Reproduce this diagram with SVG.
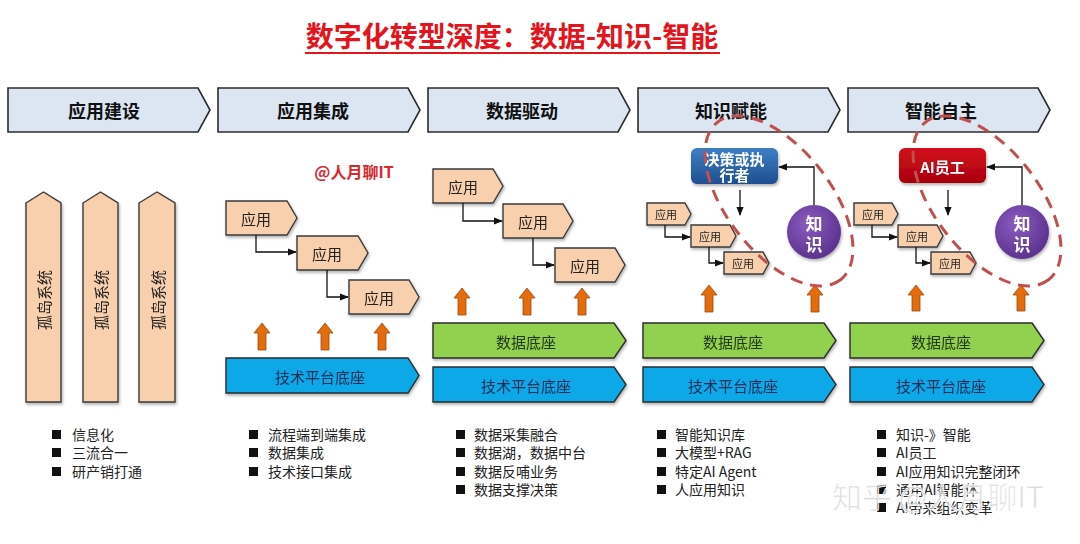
<svg xmlns="http://www.w3.org/2000/svg" width="1080" height="544" viewBox="0 0 1080 544">
<style>
text{font-family:"Noto Sans CJK SC","Noto Sans",sans-serif}
.hdr{fill:#dce6f2;stroke:#2b2b2b;stroke-width:1.6}
.hdrt{font-size:18px;font-weight:bold;fill:#111;text-anchor:middle;dominant-baseline:central}
.app{fill:#f9d0ad;stroke:#3a3a3a;stroke-width:1.4}
.appt{font-size:15px;fill:#222;text-anchor:middle;dominant-baseline:central}
.apps{font-size:11px;fill:#222;text-anchor:middle;dominant-baseline:central}
.grn{fill:#92d050;stroke:#2b2b2b;stroke-width:1.4}
.blu{fill:#0aa8e8;stroke:#2b2b2b;stroke-width:1.4}
.bart{font-size:15px;fill:#1c2e52;text-anchor:middle;dominant-baseline:central}
.bargt{font-size:15px;fill:#233a1a;text-anchor:middle;dominant-baseline:central}
.up{fill:#e46c0a;stroke:#9a4a10;stroke-width:0.8}
.conn{fill:none;stroke:#111;stroke-width:1.3}
.ell{fill:none;stroke:#c0504d;stroke-width:3;stroke-dasharray:12 8}
.bul{font-size:14px;fill:#222}
.sq{fill:#111}
.wt{font-size:15px;font-weight:bold;fill:#fff;text-anchor:middle;dominant-baseline:central}
.kt{font-size:17px;font-weight:bold;fill:#fff;text-anchor:middle;dominant-baseline:central}
</style>
<defs>
<marker id="ah" viewBox="0 0 10 10" refX="9" refY="5" markerWidth="7" markerHeight="7" orient="auto-start-reverse">
<path d="M0,1 L10,5 L0,9 Z" fill="#111"/>
</marker>
<linearGradient id="gb" x1="0" y1="0" x2="0" y2="1"><stop offset="0" stop-color="#3f7fc8"/><stop offset="1" stop-color="#1f4e8f"/></linearGradient>
<linearGradient id="gr" x1="0" y1="0" x2="0" y2="1"><stop offset="0" stop-color="#d4101c"/><stop offset="1" stop-color="#a8000e"/></linearGradient>
<radialGradient id="gp" cx="0.4" cy="0.35" r="0.7"><stop offset="0" stop-color="#8a5cc0"/><stop offset="1" stop-color="#5a2f8c"/></radialGradient>
<filter id="sh" x="-10%" y="-10%" width="130%" height="140%"><feDropShadow dx="1" dy="2" stdDeviation="1.5" flood-color="#000" flood-opacity="0.3"/></filter>
</defs>

<rect width="1080" height="544" fill="#fff"/>

<g id="title">
<text x="512" y="47" font-size="28" font-weight="bold" fill="#e3141b" text-anchor="middle">数字化转型深度：数据-知识-智能</text>
<line x1="305" y1="53" x2="720" y2="53" stroke="#e3141b" stroke-width="2"/>
</g>
<g id="watermark1"><text x="354" y="178" font-size="16" font-weight="bold" fill="#d9262c" text-anchor="middle">@人月聊IT</text></g>

<g id="headers">
<g id="h1"><path class="hdr" d="M8,88 H198 L210,110 L198,132 H8 Z"/><text class="hdrt" x="104" y="110">应用建设</text></g>
<g id="h2"><path class="hdr" d="M218,88 H408 L420,110 L408,132 H218 Z"/><text class="hdrt" x="313" y="110">应用集成</text></g>
<g id="h3"><path class="hdr" d="M428,88 H618 L630,110 L618,132 H428 Z"/><text class="hdrt" x="522" y="110">数据驱动</text></g>
<g id="h4"><path class="hdr" d="M638,88 H828 L840,110 L828,132 H638 Z"/><text class="hdrt" x="731" y="110">知识赋能</text></g>
<g id="h5"><path class="hdr" d="M848,88 H1038 L1050,110 L1038,132 H848 Z"/><text class="hdrt" x="941" y="110">智能自主</text></g>
</g>

<g id="col1" filter="url(#sh)">
<g id="silo1"><path class="app" d="M26,203 L43.5,192 L61,203 V402 H26 Z"/><text class="appt" font-size="16" transform="translate(43.5,300) rotate(-90)">孤岛系统</text></g>
<g id="silo2"><path class="app" d="M83,203 L100.5,192 L118,203 V402 H83 Z"/><text class="appt" font-size="16" transform="translate(100.5,300) rotate(-90)">孤岛系统</text></g>
<g id="silo3"><path class="app" d="M139,203 L157,192 L175,203 V402 H139 Z"/><text class="appt" font-size="16" transform="translate(157,300) rotate(-90)">孤岛系统</text></g>
</g>

<g id="col2">
<g id="c2a1" filter="url(#sh)"><path class="app" d="M226,201 H287 L297,218 L287,235 H226 Z"/><text class="appt" x="256" y="218">应用</text></g>
<g id="c2a2" filter="url(#sh)"><path class="app" d="M297,236 H358 L368,253 L358,270 H297 Z"/><text class="appt" x="327" y="253">应用</text></g>
<g id="c2a3" filter="url(#sh)"><path class="app" d="M349,280 H409 L419,297 L409,314 H349 Z"/><text class="appt" x="379" y="297">应用</text></g>
<g id="c2base" filter="url(#sh)"><path class="blu" d="M226,358 H408 L419,375.5 L408,393 H226 Z"/><text class="bart" x="320" y="376">技术平台底座</text></g>
</g>

<g id="col3">
<g id="c3a1" filter="url(#sh)"><path class="app" d="M433,169 H493 L503,186 L493,203 H433 Z"/><text class="appt" x="463" y="186">应用</text></g>
<g id="c3a2" filter="url(#sh)"><path class="app" d="M503,204 H563 L573,221 L563,238 H503 Z"/><text class="appt" x="533" y="221">应用</text></g>
<g id="c3a3" filter="url(#sh)"><path class="app" d="M555,248 H615 L625,265 L615,282 H555 Z"/><text class="appt" x="585" y="265">应用</text></g>
<g id="c3data" filter="url(#sh)"><path class="grn" d="M433,323 H614 L626,340.5 L614,358 H433 Z"/><text class="bargt" x="526" y="341">数据底座</text></g>
<g id="c3base" filter="url(#sh)"><path class="blu" d="M433,367 H614 L626,384.5 L614,402 H433 Z"/><text class="bart" x="526" y="385">技术平台底座</text></g>
</g>

<g id="col4">
<g id="c4a1" filter="url(#sh)"><path class="app" d="M647,203 H685 L691,214 L685,225 H647 Z"/><text class="apps" x="666" y="214">应用</text></g>
<g id="c4a2" filter="url(#sh)"><path class="app" d="M691,225 H730 L736,236 L730,247 H691 Z"/><text class="apps" x="710" y="236">应用</text></g>
<g id="c4a3" filter="url(#sh)"><path class="app" d="M724,252 H763 L769,263 L763,274 H724 Z"/><text class="apps" x="743" y="263">应用</text></g>
<g id="c4dec" filter="url(#sh)"><rect x="691" y="148" width="87" height="36" rx="6" fill="url(#gb)"/><text class="wt" font-size="13" x="734.5" y="158">决策或执</text><text class="wt" font-size="13" x="734.5" y="174">行者</text></g>
<g id="c4k" filter="url(#sh)"><circle cx="814" cy="232" r="27" fill="url(#gp)"/><text class="kt" x="814" y="222">知</text><text class="kt" x="814" y="243">识</text></g>
<g id="c4data" filter="url(#sh)"><path class="grn" d="M643,323 H824 L836,340.5 L824,358 H643 Z"/><text class="bargt" x="733" y="341">数据底座</text></g>
<g id="c4base" filter="url(#sh)"><path class="blu" d="M643,367 H824 L836,384.5 L824,402 H643 Z"/><text class="bart" x="733" y="385">技术平台底座</text></g>
</g>

<g id="col5">
<g id="c5a1" filter="url(#sh)"><path class="app" d="M854,203 H892 L898,214 L892,225 H854 Z"/><text class="apps" x="873" y="214">应用</text></g>
<g id="c5a2" filter="url(#sh)"><path class="app" d="M898,225 H937 L943,236 L937,247 H898 Z"/><text class="apps" x="917" y="236">应用</text></g>
<g id="c5a3" filter="url(#sh)"><path class="app" d="M931,252 H970 L976,263 L970,274 H931 Z"/><text class="apps" x="950" y="263">应用</text></g>
<g id="c5ai" filter="url(#sh)"><rect x="899" y="148" width="87" height="35" rx="6" fill="url(#gr)"/><text class="wt" font-size="14" x="942.5" y="166">AI员工</text></g>
<g id="c5k" filter="url(#sh)"><circle cx="1022" cy="232" r="27" fill="url(#gp)"/><text class="kt" x="1022" y="222">知</text><text class="kt" x="1022" y="243">识</text></g>
<g id="c5data" filter="url(#sh)"><path class="grn" d="M850,323 H1032 L1044,340.5 L1032,358 H850 Z"/><text class="bargt" x="941" y="341">数据底座</text></g>
<g id="c5base" filter="url(#sh)"><path class="blu" d="M850,367 H1032 L1044,384.5 L1032,402 H850 Z"/><text class="bart" x="941" y="385">技术平台底座</text></g>
</g>

<g id="connectors">
<path class="conn" marker-end="url(#ah)" d="M256,235 V252 H296"/>
<path class="conn" marker-end="url(#ah)" d="M327,270 V297 H348"/>
<path class="conn" marker-end="url(#ah)" d="M463,203 V221 H502"/>
<path class="conn" marker-end="url(#ah)" d="M533,238 V265 H554"/>
<path class="conn" stroke-width="1" marker-end="url(#ah)" d="M665,225 V237 H690"/>
<path class="conn" stroke-width="1" marker-end="url(#ah)" d="M709,247 V263 H723"/>
<path class="conn" marker-end="url(#ah)" d="M740,190 V215"/>
<path class="conn" marker-end="url(#ah)" d="M814,205 V167 H779"/>
<path class="conn" stroke-width="1" marker-end="url(#ah)" d="M872,225 V237 H897"/>
<path class="conn" stroke-width="1" marker-end="url(#ah)" d="M916,247 V263 H930"/>
<path class="conn" marker-end="url(#ah)" d="M948,190 V215"/>
<path class="conn" marker-end="url(#ah)" d="M1022,205 V167 H987"/>
</g>

<g id="uparrows">
<path class="up" d="M262,323 L270,333 L266,333 L266,350 L258,350 L258,333 L254,333 Z"/>
<path class="up" d="M325,323 L333,333 L329,333 L329,350 L321,350 L321,333 L317,333 Z"/>
<path class="up" d="M382,323 L390,333 L386,333 L386,350 L378,350 L378,333 L374,333 Z"/>
<path class="up" d="M462,288 L470,298 L466,298 L466,315 L458,315 L458,298 L454,298 Z"/>
<path class="up" d="M527,288 L535,298 L531,298 L531,315 L523,315 L523,298 L519,298 Z"/>
<path class="up" d="M582,288 L590,298 L586,298 L586,315 L578,315 L578,298 L574,298 Z"/>
<path class="up" d="M709,285 L717,295 L713,295 L713,312 L705,312 L705,295 L701,295 Z"/>
<path class="up" d="M815,285 L823,295 L819,295 L819,312 L811,312 L811,295 L807,295 Z"/>
<path class="up" d="M916,285 L924,295 L920,295 L920,311 L912,311 L912,295 L908,295 Z"/>
<path class="up" d="M1021,285 L1029,295 L1025,295 L1025,311 L1017,311 L1017,295 L1013,295 Z"/>
</g>

<g id="ellipses">
<ellipse class="ell" cx="779" cy="201" rx="100" ry="52" transform="rotate(52 779 201)"/>
<ellipse class="ell" cx="987" cy="201" rx="100" ry="52" transform="rotate(52 987 201)"/>
</g>

<g id="lists">
<g id="l1">
<rect class="sq" x="52" y="430" width="9" height="9"/><text class="bul" x="72" y="440">信息化</text>
<rect class="sq" x="52" y="448" width="9" height="9"/><text class="bul" x="72" y="458">三流合一</text>
<rect class="sq" x="52" y="467" width="9" height="9"/><text class="bul" x="72" y="477">研产销打通</text>
</g>
<g id="l2">
<rect class="sq" x="249" y="430" width="9" height="9"/><text class="bul" x="268" y="440">流程端到端集成</text>
<rect class="sq" x="249" y="448" width="9" height="9"/><text class="bul" x="268" y="458">数据集成</text>
<rect class="sq" x="249" y="467" width="9" height="9"/><text class="bul" x="268" y="477">技术接口集成</text>
</g>
<g id="l3">
<rect class="sq" x="456" y="430" width="9" height="9"/><text class="bul" x="474" y="440">数据采集融合</text>
<rect class="sq" x="456" y="448" width="9" height="9"/><text class="bul" x="474" y="458">数据湖，数据中台</text>
<rect class="sq" x="456" y="467" width="9" height="9"/><text class="bul" x="474" y="477">数据反哺业务</text>
<rect class="sq" x="456" y="485" width="9" height="9"/><text class="bul" x="474" y="495">数据支撑决策</text>
</g>
<g id="l4">
<rect class="sq" x="657" y="430" width="9" height="9"/><text class="bul" x="675" y="440">智能知识库</text>
<rect class="sq" x="657" y="448" width="9" height="9"/><text class="bul" x="675" y="458">大模型+RAG</text>
<rect class="sq" x="657" y="467" width="9" height="9"/><text class="bul" x="675" y="477">特定AI Agent</text>
<rect class="sq" x="657" y="485" width="9" height="9"/><text class="bul" x="675" y="495">人应用知识</text>
</g>
<g id="l5">
<rect class="sq" x="877" y="430" width="9" height="9"/><text class="bul" x="896" y="440">知识-》智能</text>
<rect class="sq" x="877" y="448" width="9" height="9"/><text class="bul" x="896" y="458">AI员工</text>
<rect class="sq" x="877" y="467" width="9" height="9"/><text class="bul" x="896" y="477">AI应用知识完整闭环</text>
<rect class="sq" x="877" y="485" width="9" height="9"/><text class="bul" x="896" y="495">通用AI智能体</text>
<rect class="sq" x="877" y="503" width="9" height="9"/><text class="bul" x="896" y="513">AI带来组织变革</text>
</g>
</g>

<g id="watermark2"><text x="938" y="508" font-size="30" fill="#cfcfcf" fill-opacity="0.75" stroke="#fff" stroke-width="0.8" text-anchor="middle" font-family="Noto Sans CJK SC, sans-serif">知乎 @人月聊IT</text></g>
</svg>
